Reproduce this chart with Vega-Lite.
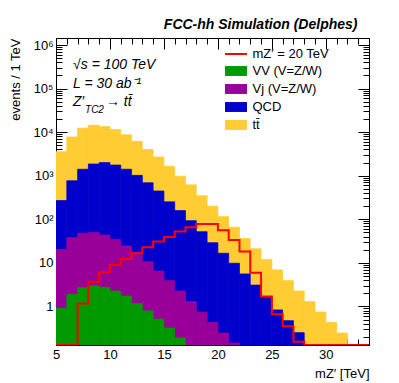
{
  "$schema": "https://vega.github.io/schema/vega-lite/v6.json",
  "width": 313,
  "height": 307,
  "autosize": "none",
  "padding": {"left": 56, "top": 38, "right": 30, "bottom": 38},
  "background": "white",
  "config": {
    "font": "Liberation Sans",
    "view": {"stroke": "black", "strokeWidth": 1},
    "axis": {"domainColor": "black", "tickColor": "black", "labelColor": "black", "titleColor": "black", "labelFont": "Liberation Sans", "titleFont": "Liberation Sans", "labelFontSize": 13, "titleFontSize": 13, "titleFontWeight": "normal", "grid": false, "labelOverlap": false, "labelFlush": false, "tickWidth": 1}
  },
  "title": {"text": "FCC-hh Simulation (Delphes)", "anchor": "end", "font": "Liberation Sans", "fontSize": 14, "fontStyle": "italic", "fontWeight": "bold", "color": "black", "offset": 6, "dx": -12},
  "datasets": {
    "background": [
      {"lo": 5, "hi": 6, "process": "tt̄", "cumulative": 3550},
      {"lo": 6, "hi": 7, "process": "tt̄", "cumulative": 7760},
      {"lo": 7, "hi": 8, "process": "tt̄", "cumulative": 12300},
      {"lo": 8, "hi": 9, "process": "tt̄", "cumulative": 14450},
      {"lo": 9, "hi": 10, "process": "tt̄", "cumulative": 13500},
      {"lo": 10, "hi": 11, "process": "tt̄", "cumulative": 11500},
      {"lo": 11, "hi": 12, "process": "tt̄", "cumulative": 8700},
      {"lo": 12, "hi": 13, "process": "tt̄", "cumulative": 6170},
      {"lo": 13, "hi": 14, "process": "tt̄", "cumulative": 3980},
      {"lo": 14, "hi": 15, "process": "tt̄", "cumulative": 2690},
      {"lo": 15, "hi": 16, "process": "tt̄", "cumulative": 1660},
      {"lo": 16, "hi": 17, "process": "tt̄", "cumulative": 977},
      {"lo": 17, "hi": 18, "process": "tt̄", "cumulative": 617},
      {"lo": 18, "hi": 19, "process": "tt̄", "cumulative": 347},
      {"lo": 19, "hi": 20, "process": "tt̄", "cumulative": 200},
      {"lo": 20, "hi": 21, "process": "tt̄", "cumulative": 115},
      {"lo": 21, "hi": 22, "process": "tt̄", "cumulative": 66},
      {"lo": 22, "hi": 23, "process": "tt̄", "cumulative": 36},
      {"lo": 23, "hi": 24, "process": "tt̄", "cumulative": 21},
      {"lo": 24, "hi": 25, "process": "tt̄", "cumulative": 12},
      {"lo": 25, "hi": 26, "process": "tt̄", "cumulative": 6.9},
      {"lo": 26, "hi": 27, "process": "tt̄", "cumulative": 3.9},
      {"lo": 27, "hi": 28, "process": "tt̄", "cumulative": 2.26},
      {"lo": 28, "hi": 29, "process": "tt̄", "cumulative": 1.29},
      {"lo": 29, "hi": 30, "process": "tt̄", "cumulative": 0.74},
      {"lo": 30, "hi": 31, "process": "tt̄", "cumulative": 0.43},
      {"lo": 31, "hi": 32, "process": "tt̄", "cumulative": 0.245},
      {"lo": 5, "hi": 6, "process": "QCD", "cumulative": 269},
      {"lo": 6, "hi": 7, "process": "QCD", "cumulative": 767},
      {"lo": 7, "hi": 8, "process": "QCD", "cumulative": 1410},
      {"lo": 8, "hi": 9, "process": "QCD", "cumulative": 1860},
      {"lo": 9, "hi": 10, "process": "QCD", "cumulative": 2000},
      {"lo": 10, "hi": 11, "process": "QCD", "cumulative": 1760},
      {"lo": 11, "hi": 12, "process": "QCD", "cumulative": 1410},
      {"lo": 12, "hi": 13, "process": "QCD", "cumulative": 1020},
      {"lo": 13, "hi": 14, "process": "QCD", "cumulative": 690},
      {"lo": 14, "hi": 15, "process": "QCD", "cumulative": 447},
      {"lo": 15, "hi": 16, "process": "QCD", "cumulative": 251},
      {"lo": 16, "hi": 17, "process": "QCD", "cumulative": 158},
      {"lo": 17, "hi": 18, "process": "QCD", "cumulative": 93},
      {"lo": 18, "hi": 19, "process": "QCD", "cumulative": 52},
      {"lo": 19, "hi": 20, "process": "QCD", "cumulative": 29},
      {"lo": 20, "hi": 21, "process": "QCD", "cumulative": 16.6},
      {"lo": 21, "hi": 22, "process": "QCD", "cumulative": 9.8},
      {"lo": 22, "hi": 23, "process": "QCD", "cumulative": 5.56},
      {"lo": 23, "hi": 24, "process": "QCD", "cumulative": 3.09},
      {"lo": 24, "hi": 25, "process": "QCD", "cumulative": 1.62},
      {"lo": 25, "hi": 26, "process": "QCD", "cumulative": 0.83},
      {"lo": 26, "hi": 27, "process": "QCD", "cumulative": 0.47},
      {"lo": 27, "hi": 28, "process": "QCD", "cumulative": 0.25},
      {"lo": 5, "hi": 6, "process": "Vj (V=Z/W)", "cumulative": 20.4},
      {"lo": 6, "hi": 7, "process": "Vj (V=Z/W)", "cumulative": 38},
      {"lo": 7, "hi": 8, "process": "Vj (V=Z/W)", "cumulative": 47.9},
      {"lo": 8, "hi": 9, "process": "Vj (V=Z/W)", "cumulative": 50},
      {"lo": 9, "hi": 10, "process": "Vj (V=Z/W)", "cumulative": 43.7},
      {"lo": 10, "hi": 11, "process": "Vj (V=Z/W)", "cumulative": 34.7},
      {"lo": 11, "hi": 12, "process": "Vj (V=Z/W)", "cumulative": 24.5},
      {"lo": 12, "hi": 13, "process": "Vj (V=Z/W)", "cumulative": 17.4},
      {"lo": 13, "hi": 14, "process": "Vj (V=Z/W)", "cumulative": 10.7},
      {"lo": 14, "hi": 15, "process": "Vj (V=Z/W)", "cumulative": 6.5},
      {"lo": 15, "hi": 16, "process": "Vj (V=Z/W)", "cumulative": 3.9},
      {"lo": 16, "hi": 17, "process": "Vj (V=Z/W)", "cumulative": 2.26},
      {"lo": 17, "hi": 18, "process": "Vj (V=Z/W)", "cumulative": 1.29},
      {"lo": 18, "hi": 19, "process": "Vj (V=Z/W)", "cumulative": 0.74},
      {"lo": 19, "hi": 20, "process": "Vj (V=Z/W)", "cumulative": 0.43},
      {"lo": 20, "hi": 21, "process": "Vj (V=Z/W)", "cumulative": 0.245},
      {"lo": 21, "hi": 22, "process": "Vj (V=Z/W)", "cumulative": 0.145},
      {"lo": 5, "hi": 6, "process": "VV (V=Z/W)", "cumulative": 0.91},
      {"lo": 6, "hi": 7, "process": "VV (V=Z/W)", "cumulative": 1.9},
      {"lo": 7, "hi": 8, "process": "VV (V=Z/W)", "cumulative": 2.7},
      {"lo": 8, "hi": 9, "process": "VV (V=Z/W)", "cumulative": 3.0},
      {"lo": 9, "hi": 10, "process": "VV (V=Z/W)", "cumulative": 2.75},
      {"lo": 10, "hi": 11, "process": "VV (V=Z/W)", "cumulative": 2.26},
      {"lo": 11, "hi": 12, "process": "VV (V=Z/W)", "cumulative": 1.74},
      {"lo": 12, "hi": 13, "process": "VV (V=Z/W)", "cumulative": 1.17},
      {"lo": 13, "hi": 14, "process": "VV (V=Z/W)", "cumulative": 0.79},
      {"lo": 14, "hi": 15, "process": "VV (V=Z/W)", "cumulative": 0.51},
      {"lo": 15, "hi": 16, "process": "VV (V=Z/W)", "cumulative": 0.32},
      {"lo": 16, "hi": 17, "process": "VV (V=Z/W)", "cumulative": 0.19}
    ],
    "signal": [
      {"lo": 5, "events": 0},
      {"lo": 6, "events": 0},
      {"lo": 7, "events": 1.17},
      {"lo": 8, "events": 3.7},
      {"lo": 9, "events": 6.1},
      {"lo": 10, "events": 8.9},
      {"lo": 11, "events": 12.3},
      {"lo": 12, "events": 16.6},
      {"lo": 13, "events": 22.9},
      {"lo": 14, "events": 30.9},
      {"lo": 15, "events": 39.4},
      {"lo": 16, "events": 52.5},
      {"lo": 17, "events": 66},
      {"lo": 18, "events": 77.6},
      {"lo": 19, "events": 77.6},
      {"lo": 20, "events": 56},
      {"lo": 21, "events": 33.5},
      {"lo": 22, "events": 18.2},
      {"lo": 23, "events": 5.96},
      {"lo": 24, "events": 1.68},
      {"lo": 25, "events": 0.66},
      {"lo": 26, "events": 0.35},
      {"lo": 27, "events": 0.155},
      {"lo": 28, "events": 0},
      {"lo": 29, "events": 0},
      {"lo": 30, "events": 0},
      {"lo": 31, "events": 0},
      {"lo": 32, "events": 0},
      {"lo": 33, "events": 0},
      {"lo": 34, "events": 0}
    ]
  },
  "layer": [
    {
      "data": {"name": "background"},
      "mark": {"type": "rect", "clip": true, "strokeWidth": 0.7},
      "encoding": {
        "x": {"field": "lo", "type": "quantitative",
          "scale": {"domain": [5, 34], "nice": false, "zero": false},
          "axis": {"orient": "bottom", "values": [5,6,7,8,9,10,11,12,13,14,15,16,17,18,19,20,21,22,23,24,25,26,27,28,29,30,31,32,33,34],
            "labelExpr": "datum.value % 5 == 0 ? datum.label : ''",
            "tickSize": {"condition": {"test": "datum.value % 5 == 0", "value": -11}, "value": -6},
            "labelPadding": 14, "title": "mZ′ [TeV]", "titleAnchor": "end", "titlePadding": 1}},
        "x2": {"field": "hi"},
        "y": {"field": "cumulative", "type": "quantitative",
          "scale": {"type": "log", "domain": [0.13, 1450000], "nice": false, "clamp": true},
          "axis": {"orient": "left",
            "values": [0.2,0.3,0.4,0.5,0.6,0.7,0.8,0.9,1,2,3,4,5,6,7,8,9,10,20,30,40,50,60,70,80,90,100,200,300,400,500,600,700,800,900,1000,2000,3000,4000,5000,6000,7000,8000,9000,10000,20000,30000,40000,50000,60000,70000,80000,90000,100000,200000,300000,400000,500000,600000,700000,800000,900000,1000000],
            "labelExpr": "datum.value == 1 ? '1' : datum.value == 10 ? '10' : datum.value == 100 ? '10²' : datum.value == 1000 ? '10³' : datum.value == 10000 ? '10⁴' : datum.value == 100000 ? '10⁵' : datum.value == 1000000 ? '10⁶' : ''",
            "tickSize": {"condition": {"test": "abs(log(datum.value)/LN10 - round(log(datum.value)/LN10)) < 0.001", "value": -11}, "value": -6},
            "labelPadding": 14, "title": "events / 1 TeV", "titleAnchor": "end", "titlePadding": 10}},
        "y2": {"datum": 0},
        "fill": {"field": "process", "type": "nominal",
          "scale": {"domain": ["VV (V=Z/W)", "Vj (V=Z/W)", "QCD", "tt̄"], "range": ["#009900", "#990099", "#0000cc", "#ffcc33"]},
          "legend": {"orient": "none", "legendX": 173.5, "legendY": 26.5, "title": null, "symbolType": "M-2,-0.9H2V0.9H-2Z", "symbolSize": 121, "symbolStrokeWidth": 0, "symbolOpacity": 1, "labelFontSize": 13, "labelFont": "Liberation Sans", "labelColor": "black", "labelOffset": 10, "rowPadding": 4}},
        "stroke": {"field": "process", "type": "nominal",
          "scale": {"domain": ["VV (V=Z/W)", "Vj (V=Z/W)", "QCD", "tt̄"], "range": ["#009900", "#990099", "#0000cc", "#ffcc33"]},
          "legend": null}
      }
    },
    {
      "data": {"name": "signal"},
      "mark": {"type": "line", "interpolate": "step-after", "strokeWidth": 2, "clip": true},
      "encoding": {
        "x": {"field": "lo", "type": "quantitative",
          "axis": {"orient": "top", "values": [5,6,7,8,9,10,11,12,13,14,15,16,17,18,19,20,21,22,23,24,25,26,27,28,29,30,31,32,33,34],
            "labels": false, "title": null,
            "tickSize": {"condition": {"test": "datum.value % 5 == 0", "value": -11}, "value": -6}}},
        "y": {"field": "events", "type": "quantitative",
          "axis": {"orient": "right",
            "values": [0.2,0.3,0.4,0.5,0.6,0.7,0.8,0.9,1,2,3,4,5,6,7,8,9,10,20,30,40,50,60,70,80,90,100,200,300,400,500,600,700,800,900,1000,2000,3000,4000,5000,6000,7000,8000,9000,10000,20000,30000,40000,50000,60000,70000,80000,90000,100000,200000,300000,400000,500000,600000,700000,800000,900000,1000000],
            "labels": false, "title": null,
            "tickSize": {"condition": {"test": "abs(log(datum.value)/LN10 - round(log(datum.value)/LN10)) < 0.001", "value": -11}, "value": -6}}},
        "stroke": {"datum": "mZ′ = 20 TeV", "type": "nominal",
          "scale": {"range": ["#ff0000"]},
          "legend": {"orient": "none", "legendX": 173.5, "legendY": 9.5, "title": null, "symbolType": "M-2,0H2", "symbolSize": 121, "symbolStrokeWidth": 2, "labelFontSize": 13, "labelFont": "Liberation Sans", "labelColor": "black", "labelOffset": 10}}
      }
    },
    {
      "data": {"values": [{}]},
      "mark": {"type": "text", "font": "Liberation Sans", "fontStyle": "italic", "fontSize": 14, "align": "left", "baseline": "middle", "color": "black"},
      "encoding": {
        "x": {"datum": 6.58, "type": "quantitative", "axis": null},
        "y": {"datum": 340000, "type": "quantitative", "axis": null},
        "text": {"value": "√s = 100 TeV"}
      }
    },
    {
      "data": {"values": [{}]},
      "mark": {"type": "text", "font": "Liberation Sans", "fontStyle": "italic", "fontSize": 14, "align": "left", "baseline": "middle", "color": "black"},
      "encoding": {
        "x": {"datum": 6.58, "type": "quantitative", "axis": null},
        "y": {"datum": 125000, "type": "quantitative", "axis": null},
        "text": {"value": "L = 30 ab⁻¹"}
      }
    },
    {
      "data": {"values": [{}]},
      "mark": {"type": "text", "font": "Liberation Sans", "fontStyle": "italic", "fontSize": 14, "align": "left", "baseline": "middle", "color": "black"},
      "encoding": {
        "x": {"datum": 6.58, "type": "quantitative", "axis": null},
        "y": {"datum": 50000, "type": "quantitative", "axis": null},
        "text": {"value": "Z′"}
      }
    },
    {
      "data": {"values": [{}]},
      "mark": {"type": "text", "font": "Liberation Sans", "fontStyle": "italic", "fontSize": 10, "align": "left", "baseline": "middle", "color": "black"},
      "encoding": {
        "x": {"datum": 7.69, "type": "quantitative", "axis": null},
        "y": {"datum": 32000, "type": "quantitative", "axis": null},
        "text": {"value": "TC2"}
      }
    },
    {
      "data": {"values": [{}]},
      "mark": {"type": "text", "font": "Liberation Sans", "fontStyle": "italic", "fontSize": 14, "align": "left", "baseline": "middle", "color": "black"},
      "encoding": {
        "x": {"datum": 9.63, "type": "quantitative", "axis": null},
        "y": {"datum": 50000, "type": "quantitative", "axis": null},
        "text": {"value": "→ tt̄"}
      }
    }
  ],
  "resolve": {"axis": {"x": "independent", "y": "independent"}, "scale": {"stroke": "independent"}, "legend": {"stroke": "independent"}}
}
